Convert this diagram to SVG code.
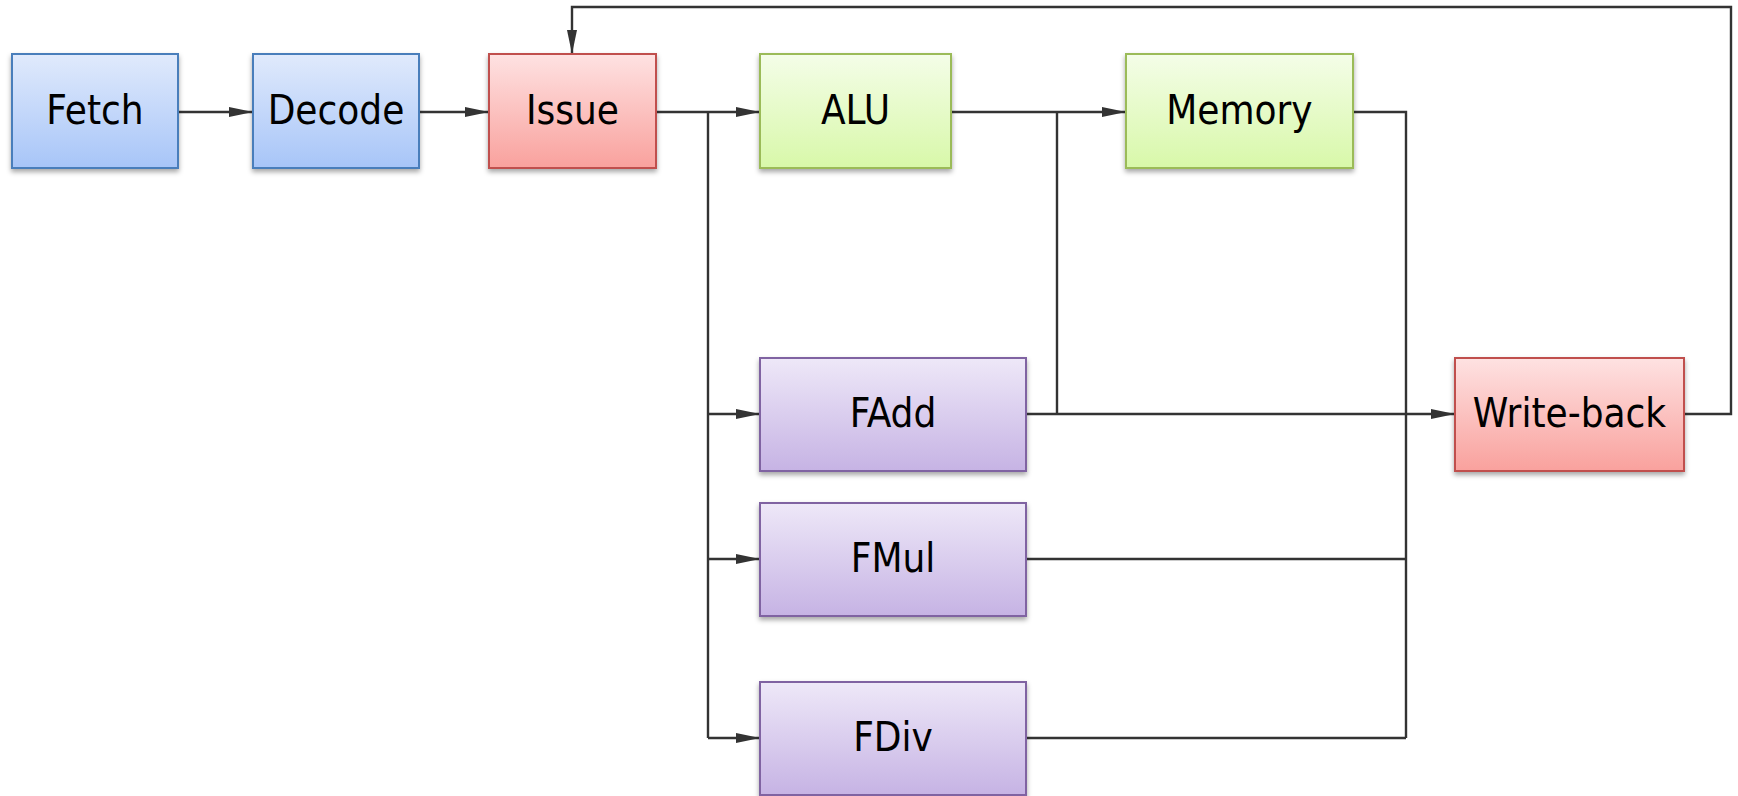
<svg xmlns="http://www.w3.org/2000/svg" width="1738" height="796" viewBox="0 0 1738 796">
<style>
.lbl{font-family:"DejaVu Sans Condensed","DejaVu Sans",sans-serif;font-size:40px;fill:#000;text-anchor:middle}
.box{stroke-width:2;filter:url(#sh)}
.blue{fill:url(#gBlue);stroke:#4a7ebb}
.red{fill:url(#gRed);stroke:#c0504d}
.green{fill:url(#gGreen);stroke:#9bbb59}
.purple{fill:url(#gPurple);stroke:#8064a2}
.ln{fill:none;stroke:#333;stroke-width:2.4}
.arr{marker-end:url(#ah)}
</style>
<defs>
<linearGradient id="gBlue" x1="0" y1="0" x2="0" y2="1"><stop offset="0" stop-color="#e0eafc"/><stop offset="1" stop-color="#a7c5f8"/></linearGradient>
<linearGradient id="gRed" x1="0" y1="0" x2="0" y2="1"><stop offset="0" stop-color="#fee2e2"/><stop offset="1" stop-color="#f9a19d"/></linearGradient>
<linearGradient id="gGreen" x1="0" y1="0" x2="0" y2="1"><stop offset="0" stop-color="#f4fde8"/><stop offset="1" stop-color="#d8f8a9"/></linearGradient>
<linearGradient id="gPurple" x1="0" y1="0" x2="0" y2="1"><stop offset="0" stop-color="#eee8f8"/><stop offset="1" stop-color="#c6b3e4"/></linearGradient>
<filter id="sh" x="-10%" y="-10%" width="120%" height="130%"><feDropShadow dx="0" dy="3" stdDeviation="2.5" flood-color="#000" flood-opacity="0.35"/></filter>
<marker id="ah" markerUnits="userSpaceOnUse" markerWidth="24" markerHeight="10" refX="24" refY="5" orient="auto"><path d="M0,0 L24,5 L0,10 z" fill="#333"/></marker>
</defs>
<rect width="1738" height="796" fill="#fff"/>
<g id="connectors">
<path class="ln arr" d="M178,112 H253"/>
<path class="ln arr" d="M419,112 H489"/>
<path class="ln arr" d="M656,112 H760"/>
<path class="ln" d="M708,112 V738"/>
<path class="ln arr" d="M708,414 H760"/>
<path class="ln arr" d="M708,559 H760"/>
<path class="ln arr" d="M708,738 H760"/>
<path class="ln arr" d="M951,112 H1126"/>
<path class="ln" d="M1057,112 V414"/>
<path class="ln arr" d="M1026,414 H1455"/>
<path class="ln" d="M1353,112 H1406 V738"/>
<path class="ln" d="M1026,559 H1406"/>
<path class="ln" d="M1026,738 H1406"/>
<path class="ln arr" d="M1684,414 H1731 V7 H572 V54"/>
</g>
<g id="fetch"><rect class="box blue" x="12" y="54" width="166" height="114"/><text class="lbl" x="95" y="124">Fetch</text></g>
<g id="decode"><rect class="box blue" x="253" y="54" width="166" height="114"/><text class="lbl" x="336" y="124">Decode</text></g>
<g id="issue"><rect class="box red" x="489" y="54" width="167" height="114"/><text class="lbl" x="572.5" y="124">Issue</text></g>
<g id="alu"><rect class="box green" x="760" y="54" width="191" height="114"/><text class="lbl" x="855.5" y="124">ALU</text></g>
<g id="memory"><rect class="box green" x="1126" y="54" width="227" height="114"/><text class="lbl" x="1239.5" y="124">Memory</text></g>
<g id="fadd"><rect class="box purple" x="760" y="358" width="266" height="113"/><text class="lbl" x="893" y="427">FAdd</text></g>
<g id="fmul"><rect class="box purple" x="760" y="503" width="266" height="113"/><text class="lbl" x="893" y="572">FMul</text></g>
<g id="fdiv"><rect class="box purple" x="760" y="682" width="266" height="113"/><text class="lbl" x="893" y="751">FDiv</text></g>
<g id="writeback"><rect class="box red" x="1455" y="358" width="229" height="113"/><text class="lbl" x="1569.5" y="427">Write-back</text></g>
</svg>
